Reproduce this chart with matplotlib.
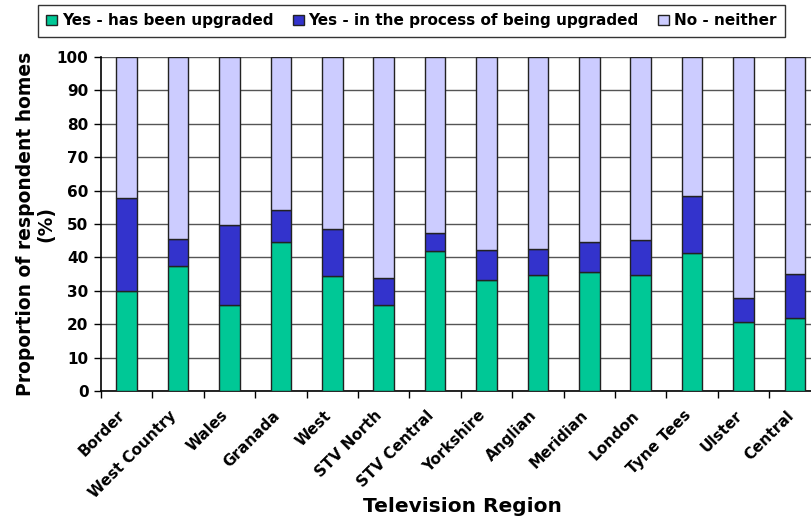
import numpy as np
import matplotlib.pyplot as plt
import matplotlib.transforms as mtransforms

# survey results (% of respondent homes) per television region
regions = ['Border', 'West Country', 'Wales', 'Granada', 'West', 'STV North',
           'STV Central', 'Yorkshire', 'Anglian', 'Meridian', 'London',
           'Tyne Tees', 'Ulster', 'Central']
upgraded = [30.0, 37.3, 25.7, 44.7, 34.3, 25.7, 41.8, 33.2, 34.6, 35.5, 34.6, 41.4, 20.6, 21.8]
in_process = [27.8, 8.3, 24.1, 9.5, 14.3, 8.1, 5.4, 8.9, 8.0, 9.0, 10.7, 17.0, 7.2, 13.1]
neither = [100 - a - b for a, b in zip(upgraded, in_process)]

series_labels = ['Yes - has been upgraded', 'Yes - in the process of being upgraded',
                 'No - neither']
colors = ['#00C896', '#3333CC', '#CCCCFF']

plt.rcParams['font.family'] = 'DejaVu Sans'
plt.rcParams['font.weight'] = 'bold'

fig = plt.figure(figsize=(8.11, 5.21), dpi=100)
ax = fig.add_axes([101 / 811, 130 / 521, 14 * 51.4 / 811, 334 / 521])

x = np.arange(len(regions))
bottom = np.zeros(len(regions))
for vals, lab, col in zip([upgraded, in_process, neither], series_labels, colors):
    ax.bar(x, vals, width=0.4, bottom=bottom, color=col, edgecolor='#222222',
           linewidth=1.0, label=lab, zorder=3)
    bottom += np.array(vals)

ax.set_xlim(-0.5, len(regions) - 0.5)
ax.set_ylim(0, 100)
ax.set_yticks(range(0, 101, 10))
ax.yaxis.grid(True, color='#555555', linewidth=1.0, zorder=0)
ax.set_axisbelow(True)

# boundary ticks on x, labels at bar centres
ax.set_xticks(np.arange(-0.5, len(regions), 1.0))
ax.set_xticklabels([])
ax.set_xticks(x, minor=True)
ax.set_xticklabels(regions, minor=True, rotation=45, ha='right',
                   rotation_mode='anchor', fontsize=11, fontweight='bold')
ax.tick_params(axis='x', which='minor', length=0, pad=12)
ax.tick_params(axis='x', which='major', length=5, width=1, direction='out')
ax.tick_params(axis='y', length=5, width=1, direction='out', labelsize=11, pad=4)
shift = mtransforms.ScaledTranslation(-9 / 100, 0, fig.dpi_scale_trans)
for lbl in ax.get_xticklabels(minor=True):
    lbl.set_transform(lbl.get_transform() + shift)

for s in ['top', 'right']:
    ax.spines[s].set_visible(False)
ax.spines['left'].set_linewidth(1.2)
ax.spines['bottom'].set_linewidth(1.2)

ax.set_ylabel('Proportion of respondent homes\n(%)', fontsize=13.5,
              fontweight='bold', labelpad=1, linespacing=1.1)
fig.text(462 / 811, 1 - 506 / 521, 'Television Region', fontsize=14.5,
         fontweight='bold', ha='center', va='center')

leg = fig.legend(loc='upper left', bbox_to_anchor=(38 / 811, 1 - 5 / 521), ncol=3,
                 frameon=True, fancybox=False, edgecolor='black', borderaxespad=0,
                 handlelength=0.7, handleheight=0.7, handletextpad=0.3,
                 columnspacing=1.3, borderpad=0.55, prop={'weight': 'bold', 'size': 11})
leg.get_frame().set_linewidth(1.0)

fig.savefig('out.png', dpi=100)
